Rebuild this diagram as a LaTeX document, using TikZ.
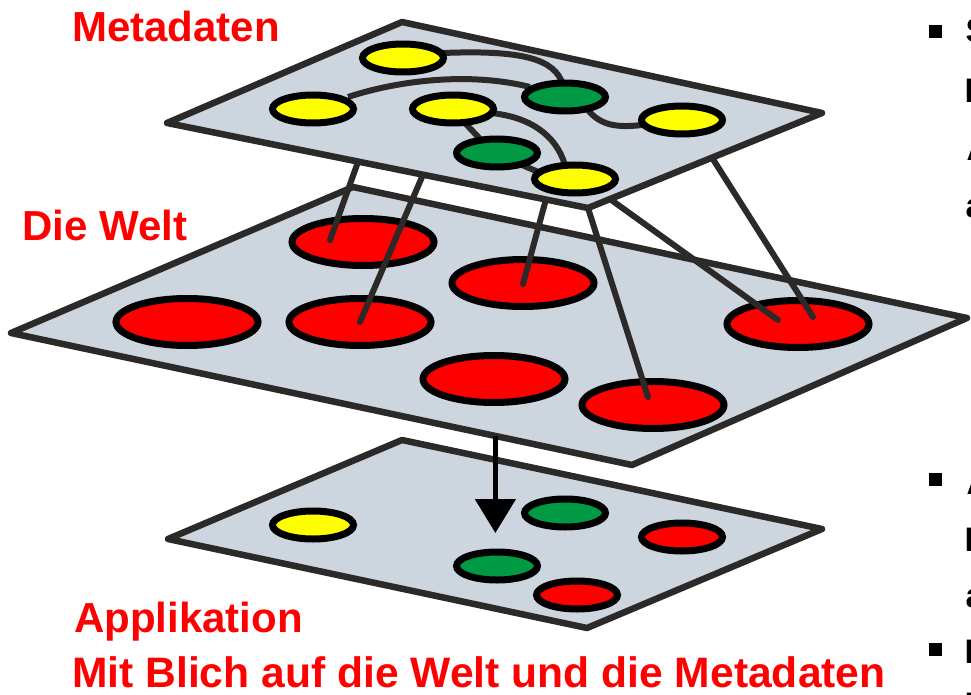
\documentclass[tikz,border=0pt]{standalone}
\usepackage{fontspec}
\setmainfont{Liberation Sans}
\usetikzlibrary{shapes.geometric,arrows.meta,calc}
\definecolor{planefill}{RGB}{205,213,222}
\definecolor{edgegray}{RGB}{43,42,41}
\definecolor{ygold}{RGB}{255,255,0}
\definecolor{mgreen}{RGB}{0,153,68}
\definecolor{mred}{RGB}{255,0,0}
\pgfdeclarelayer{base}
\pgfdeclarelayer{links}
\pgfsetlayers{base,links,main}
\begin{document}
\begin{tikzpicture}[x=1pt,y=-1pt,
  plane/.style={fill=planefill,draw=edgegray,line width=6.5pt,line join=round},
  disc/.style={ellipse,draw=black,line width=7pt,inner sep=0pt,minimum width=81pt,minimum height=28pt},
  bigdisc/.style={ellipse,draw=black,line width=7pt,inner sep=0pt,minimum width=142pt,minimum height=47pt,fill=mred},
  link/.style={draw=edgegray,line width=6pt,line cap=round},
  lab/.style={text=mred,font=\fontsize{42}{50}\selectfont\bfseries,anchor=base west,inner sep=0pt},
  frag/.style={text=black,font=\fontsize{34}{40}\selectfont\bfseries,anchor=base west,inner sep=0pt},
  bul/.style={fill=black,minimum size=13pt,inner sep=0pt}
]
\useasboundingbox (0,0) rectangle (971,695);
\begin{pgfonlayer}{base}
% bottom plane (Applikation)
\coordinate (At) at (402,440); \coordinate (Ar) at (822,529);
\coordinate (Ab) at (587,628); \coordinate (Al) at (168,539);
\draw[plane] (At) -- (Ar) -- (Ab) -- (Al) -- cycle;
\node[disc,fill=ygold]  (aY)  at (313,525) {};
\node[disc,fill=mgreen] (aG1) at (565,513) {};
\node[disc,fill=mred]   (aR1) at (682,537) {};
\node[disc,fill=mgreen] (aG2) at (497,566) {};
\node[disc,fill=mred]   (aR2) at (577,595) {};
% middle plane (Die Welt)
\coordinate (Mt) at (353,187); \coordinate (Mr) at (967,318);
\coordinate (Mb) at (632,465); \coordinate (Ml) at (11,333);
\draw[plane] (Mt) -- (Mr) -- (Mb) -- (Ml) -- cycle;
\node[bigdisc] (R1) at (363,242) {};
\node[bigdisc] (R2) at (523,283) {};
\node[bigdisc] (R3) at (187,322) {};
\node[bigdisc] (R4) at (360,322) {};
\node[bigdisc] (R5) at (494,379) {};
\node[bigdisc] (R6) at (653,405) {};
\node[bigdisc] (R7) at (798,324) {};
% top plane corners
\coordinate (Tt) at (402,22); \coordinate (Tr) at (822,113);
\coordinate (Tb) at (588,208); \coordinate (Tl) at (167,123);
% connectors from metadata to the world
\draw[link] ($(Tl)!0.454!(Tb)$) -- ($(R1.center)+(-33,-2)$);
\draw[link] ($(Tl)!0.608!(Tb)$) -- (R4.center);
\draw[link] ($(Tl)!0.9!(Tb)$) -- ($(R2.center)+(0,1)$);
\draw[link] (Tb) -- ($(R6.center)+(-5,-8)$);
\draw[link] ($(Tb)!0.094!(Tr)$) -- ($(R7.center)+(-20,-4)$);
\draw[link] ($(Tb)!0.53!(Tr)$) -- ($(R7.center)+(15,-7)$);
% arrow
\coordinate (arS) at ($(Ml)!0.78!(Mb)$);
\coordinate (arE) at (495,533);
\draw[line width=5pt,-{Triangle[length=34pt,width=40pt]}] (arS) -- (arS |- arE);
% top plane (Metadaten)
\draw[plane] (Tt) -- (Tr) -- (Tb) -- (Tl) -- cycle;
\end{pgfonlayer}
% metadata nodes
\node[disc,fill=ygold]  (Y1) at (403,58) {};
\node[disc,fill=ygold]  (Y2) at (313,109) {};
\node[disc,fill=ygold]  (Y3) at (453,109) {};
\node[disc,fill=mgreen] (G1) at (565,97) {};
\node[disc,fill=ygold]  (Y5) at (682,120) {};
\node[disc,fill=mgreen] (G2) at (497,153) {};
\node[disc,fill=ygold]  (Y4) at (575,179) {};
\begin{pgfonlayer}{links}
\draw[link,line cap=butt] ($(Y1.center)+(40,-5)$) .. controls (520,50) and (555,58) .. ($(G1.center)+(-2,-12)$);
\draw[link,line cap=butt] ($(Y2.center)+(35,-12)$) .. controls (400,80) and (470,72) .. ($(G1.center)+(-35,-10)$);
\draw[link,line cap=butt] ($(G1.center)+(22,12)$) .. controls (600,125) and (615,128) .. ($(Y5.center)+(-40,5)$);
\draw[link,line cap=butt] ($(Y3.center)+(12,14)$) -- ($(G2.center)+(-15,-12)$);
\draw[link,line cap=butt] ($(Y3.center)+(38,4)$) .. controls (530,117) and (556,135) .. ($(Y4.center)+(-10,-14)$);
\draw[link,line cap=butt] ($(G2.center)+(25,12)$) -- ($(Y4.center)+(-32,-5)$);
\end{pgfonlayer}
% labels
\node[lab] (tMeta) at (72,42) {Metadaten};
\node[lab] (tWelt) at (22,240) {Die Welt};
\node[lab] (tApp) at (74,632) {Applikation};
\node[lab,font=\fontsize{42.6}{50}\selectfont\bfseries] (tMit) at (72,687) {Mit Blich auf die Welt und die Metadaten};
% cut-off text on the right
\begin{scope}
\clip (0,0) rectangle (971,695);
\node[bul] (b1) at (935,31.5) {};
\node[frag] (f1) at (965.5,43) {S};
\node[frag] (f2) at (964.5,103) {D};
\node[frag] (f3) at (966.5,161) {A};
\node[frag] (f4) at (965.5,217) {a};
\node[bul] (b2) at (935,479) {};
\node[frag] (f5) at (966.5,494) {A};
\node[frag] (f6) at (964.5,551) {D};
\node[frag] (f7) at (965.5,607) {a};
\node[bul] (b3) at (935,649) {};
\node[frag] (f8) at (964.5,663) {D};
\node[frag] (f9) at (964.5,716) {D};
\end{scope}
\end{tikzpicture}
\end{document}
